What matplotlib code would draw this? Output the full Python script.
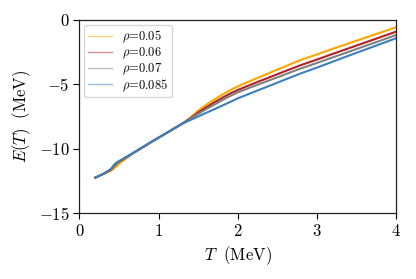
import matplotlib
matplotlib.use("Agg")
import matplotlib.pyplot as plt
from matplotlib.ticker import FuncFormatter, MultipleLocator

plt.rcParams['mathtext.fontset'] = 'cm'
plt.rcParams['font.family'] = ['DejaVu Serif']

T = [0.2, 0.3, 0.4, 0.45, 0.5, 0.7, 0.9, 1.1, 1.3, 1.4, 1.5, 1.6, 1.7, 1.8, 1.9,
     2.0, 2.2, 2.4, 2.6, 2.8, 3.0, 3.2, 3.4, 3.6, 3.8, 4.0]
E_005 = [-12.23, -11.95, -11.7, -11.45, -11.15, -10.25, -9.5, -8.78, -8.05,
         -7.6, -7.05, -6.6, -6.2, -5.82, -5.48, -5.17, -4.65, -4.13, -3.62,
         -3.12, -2.7, -2.27, -1.85, -1.43, -1.02, -0.6]
E_006 = [-12.23, -11.95, -11.6, -11.25, -11.0, -10.25, -9.5, -8.78, -8.05,
         -7.65, -7.2, -6.8, -6.42, -6.07, -5.74, -5.45, -4.95, -4.47, -3.99,
         -3.52, -3.1, -2.66, -2.23, -1.8, -1.37, -0.94]
E_007 = [-12.23, -11.95, -11.58, -11.2, -10.97, -10.25, -9.5, -8.78, -8.05,
         -7.7, -7.3, -6.93, -6.6, -6.25, -5.93, -5.63, -5.16, -4.70, -4.24,
         -3.78, -3.36, -2.93, -2.5, -2.07, -1.64, -1.2]
E_0085 = [-12.23, -11.95, -11.55, -11.15, -10.95, -10.25, -9.5, -8.78, -8.05,
          -7.78, -7.5, -7.22, -6.95, -6.67, -6.39, -6.1, -5.61, -5.13, -4.64,
          -4.16, -3.72, -3.26, -2.8, -2.35, -1.9, -1.45]

series = [(E_005, 'orange', r'$\rho$=0.05'),
          (E_006, '#b22222', r'$\rho$=0.06'),
          (E_007, 'gray', r'$\rho$=0.07'),
          (E_0085, '#3b7fbf', r'$\rho$=0.085')]

fig = plt.figure(figsize=(4.16, 2.79), dpi=100)
ax = fig.add_axes([0.191, 0.235, 0.761, 0.695])

for E, c, lab in series:
    ax.plot(T, E, color=c, lw=1.5, label=lab)

ax.set_xlim(0, 4)
ax.set_ylim(-15, 0)
ax.xaxis.set_major_locator(MultipleLocator(1))
ax.yaxis.set_major_locator(MultipleLocator(5))
fmt = FuncFormatter(lambda v, p: f'${v:g}$')
ax.xaxis.set_major_formatter(fmt)
ax.yaxis.set_major_formatter(fmt)
ax.tick_params(labelsize=12, length=4, width=0.8, direction='out', pad=3)
for s in ax.spines.values():
    s.set_color('#222222')
    s.set_linewidth(0.9)

ax.set_xlabel(r'$T\ \ \mathrm{(MeV)}$', fontsize=12, labelpad=3)
ax.set_ylabel(r'$E(T)\ \ \mathrm{(MeV)}$', fontsize=12, labelpad=4)

leg = ax.legend(loc='upper left', prop={'family': 'cmr10', 'size': 9},
                frameon=True, fancybox=True,
                framealpha=0.8, edgecolor='#cccccc', handlelength=1.9,
                handletextpad=0.8, borderpad=0.3, labelspacing=0.05,
                borderaxespad=0.4)
for h in leg.legend_handles:
    h.set_alpha(0.5)
    h.set_linewidth(1.0)

fig.savefig('out.png', dpi=100)
